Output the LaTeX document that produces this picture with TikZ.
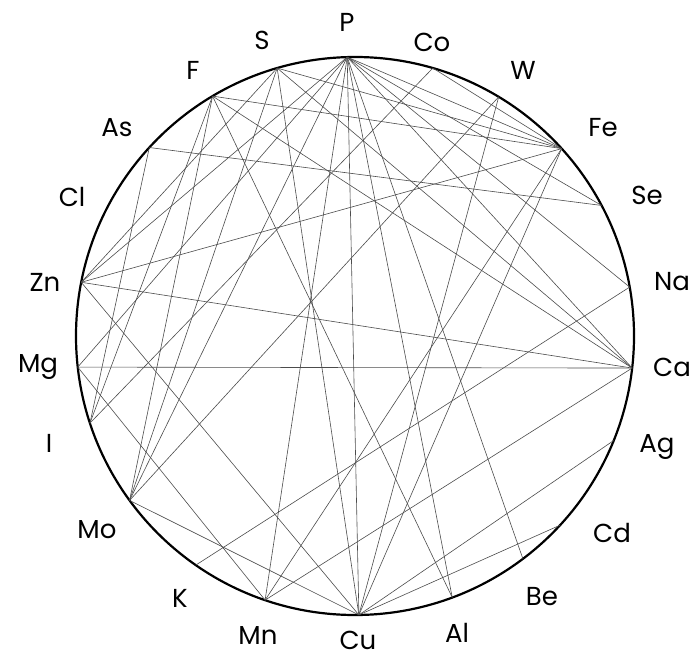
\documentclass[tikz,border=0pt]{standalone}
\usepackage{fontspec}
\setmainfont{Poppins}
\begin{document}
\begin{tikzpicture}[x=1pt,y=-1pt,
  chord/.style={draw=black!70,line width=0.6pt},
  lab/.style={font=\fontsize{26}{26}\selectfont,inner sep=0pt}]
\useasboundingbox (0,0) rectangle (698,660);
\fill[white] (0,0) rectangle (698,660);
\def\cx{355}\def\cy{336}\def\rr{279}
\foreach \n/\a in {P/91.6,Co/73.8,W/59.0,Fe/42.2,Se/27.9,Na/10.1,Ca/-6.6,Ag/-22.0,Cd/-42.7,Be/-53.0,Al/-69.6,Cu/-89.2,Mn/-108.8,K/-124.8,Mo/-143.9,I/-161.8,Mg/-173.6,Zn/168.9,Cl/153.0,As/137.5,F/120.7,S/106.2}
  \coordinate (\n) at ({\cx+\rr*cos(\a)},{\cy-\rr*sin(\a)});
\node[draw=black,line width=2.2pt,circle,minimum size=558pt,inner sep=0pt] (ring) at (\cx,\cy) {};
\foreach \u/\v in {P/Fe,P/Se,P/Na,P/Ca,P/Be,P/Al,P/Cu,P/Mn,P/Mo,P/Mg,P/Zn,
  S/Zn,S/Fe,S/Ca,S/Cu,S/Mo,
  F/Mo,F/I,F/Ca,F/Al,F/Fe,
  As/Se,As/I,Co/I,Co/Fe,W/Mo,W/Cu,
  Fe/Zn,Fe/Cu,Fe/Mn,Zn/Ca,Zn/Cu,Mg/Ca,Mg/Mn,Na/K,Ca/Mn,Ag/Cu,Cd/Cu,Mo/Cu}
  \draw[chord] (\u) -- (\v);
\node[lab] (lP) at (347,22) {P};
\node[lab] (lCo) at (432,42) {Co};
\node[lab] (lW) at (523,70) {W};
\node[lab] (lFe) at (603,128) {Fe};
\node[lab] (lSe) at (647,195) {Se};
\node[lab] (lNa) at (672,282) {Na};
\node[lab] (lCa) at (672,367) {Ca};
\node[lab] (lAg) at (657,447) {Ag};
\node[lab] (lCd) at (612,533) {Cd};
\node[lab] (lBe) at (542,597) {Be};
\node[lab] (lAl) at (457,633) {Al};
\node[lab] (lCu) at (358,640) {Cu};
\node[lab] (lMn) at (258,635) {Mn};
\node[lab] (lK) at (180,598) {K};
\node[lab] (lMo) at (97,530) {Mo};
\node[lab] (lI) at (49,443) {I};
\node[lab] (lMg) at (38,367) {Mg};
\node[lab] (lZn) at (45,282) {Zn};
\node[lab] (lCl) at (72,197) {Cl};
\node[lab] (lAs) at (117,128) {As};
\node[lab] (lF) at (193,70) {F};
\node[lab] (lS) at (262,40) {S};
\end{tikzpicture}
\end{document}
